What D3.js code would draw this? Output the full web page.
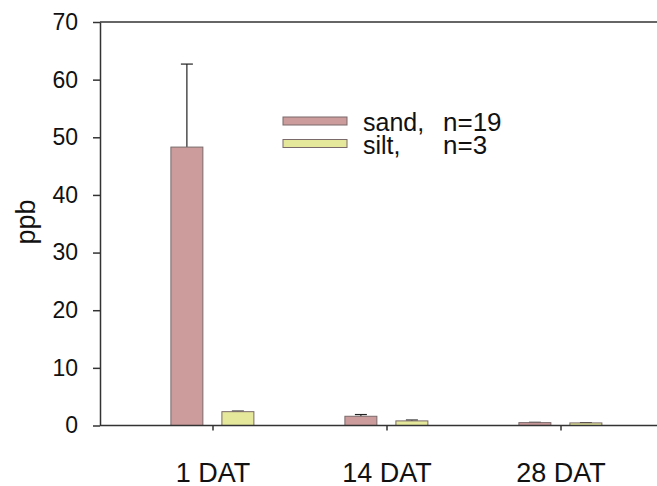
<!DOCTYPE html>
<html lang="en">
<head>
  <meta charset="UTF-8">
  <title>ppb by days after treatment</title>
  <script src="https://d3js.org/d3.v7.min.js"></script>
  <style>
    body { margin: 0; background: #fff; }
    svg { display: block; font-family: "Liberation Sans", Arial, sans-serif; }
    .axis path, .axis line { stroke: #333; stroke-width: 1.5px; }
    .axis text { fill: #111; }
  </style>
</head>
<body>
  <svg id="chart" width="657" height="486"></svg>
  <script>
    // values
    const categories = ["1 DAT", "14 DAT", "28 DAT"];
    const seriesNames = ["sand,", "silt,"];
    const seriesCounts = ["n=19", "n=3"];
    const sandMean = [48.3, 1.6, 0.5];
    const sandErr = [14.4, 0.3, 0.05];
    const siltMean = [2.4, 0.8, 0.45];
    const siltErr = [0.1, 0.15, 0.05];
    const yTicks = [0, 10, 20, 30, 40, 50, 60, 70];

    const colors = ["#cc9b9c", "#e5e89b"];

    const svg = d3.select("#chart");
    const plotLeft = 100, plotRight = 657, plotTop = 22, plotBottom = 425.5;

    const y = d3.scaleLinear().domain([0, 70]).range([plotBottom, plotTop]);
    const x = d3.scaleBand().domain(categories).range([126, 648]);
    const xSub = d3.scaleBand().domain(["sand", "silt"])
      .range([x.bandwidth() * 0.258, x.bandwidth() * 0.735])
      .paddingInner(0.373);

    const rows = [];
    categories.forEach((c, i) => {
      rows.push({ cat: c, key: "sand", v: sandMean[i], e: sandErr[i], color: colors[0] });
      rows.push({ cat: c, key: "silt", v: siltMean[i], e: siltErr[i], color: colors[1] });
    });

    // error bars (upper only), drawn behind bars
    const err = svg.append("g").attr("stroke", "#222").attr("stroke-width", 1.2);
    err.selectAll("line.v")
      .data(rows).enter().append("line")
      .attr("x1", d => x(d.cat) + xSub(d.key) + xSub.bandwidth() / 2)
      .attr("x2", d => x(d.cat) + xSub(d.key) + xSub.bandwidth() / 2)
      .attr("y1", d => y(d.v))
      .attr("y2", d => y(d.v + d.e));
    err.selectAll("line.cap")
      .data(rows).enter().append("line")
      .attr("x1", d => x(d.cat) + xSub(d.key) + xSub.bandwidth() / 2 - 6)
      .attr("x2", d => x(d.cat) + xSub(d.key) + xSub.bandwidth() / 2 + 6)
      .attr("y1", d => y(d.v + d.e))
      .attr("y2", d => y(d.v + d.e));

    svg.append("g")
      .selectAll("rect")
      .data(rows).enter().append("rect")
      .attr("x", d => x(d.cat) + xSub(d.key))
      .attr("y", d => y(d.v))
      .attr("width", xSub.bandwidth())
      .attr("height", d => y(0) - y(d.v))
      .attr("fill", d => d.color)
      .attr("stroke", "#7a6a6a")
      .attr("stroke-width", 1);

    // top frame line
    svg.append("line")
      .attr("x1", plotLeft).attr("x2", plotRight)
      .attr("y1", y(70)).attr("y2", y(70))
      .attr("stroke", "#333").attr("stroke-width", 1.5);

    // y axis
    const yAxis = svg.append("g")
      .attr("class", "axis")
      .attr("transform", `translate(${plotLeft},0)`)
      .call(d3.axisLeft(y).tickValues(yTicks).tickSize(7).tickSizeOuter(0).tickPadding(15));
    yAxis.selectAll("text").style("font-size", "23px");

    // x axis
    const xAxis = svg.append("g")
      .attr("class", "axis")
      .attr("transform", `translate(0,${y(0)})`);
    xAxis.append("line")
      .attr("x1", plotLeft).attr("x2", plotRight);
    xAxis.selectAll("line.tick")
      .data(categories).enter().append("line")
      .attr("class", "tick")
      .attr("x1", d => x(d) + x.bandwidth() / 2)
      .attr("x2", d => x(d) + x.bandwidth() / 2)
      .attr("y1", 0).attr("y2", 5);
    xAxis.selectAll("text")
      .data(categories).enter().append("text")
      .attr("x", d => x(d) + x.bandwidth() / 2)
      .attr("y", 56)
      .attr("text-anchor", "middle")
      .style("font-size", "27px")
      .text(d => d);

    svg.append("text")
      .attr("transform", "translate(35,222) rotate(-90)")
      .attr("text-anchor", "middle")
      .style("font-size", "27px")
      .attr("fill", "#111")
      .text("ppb");

    // legend
    const legend = svg.append("g").attr("transform", "translate(283,117)");
    const item = legend.selectAll("g")
      .data(seriesNames).enter().append("g")
      .attr("transform", (d, i) => `translate(0,${i * 22.5})`);
    item.append("rect")
      .attr("width", 64).attr("height", 8)
      .attr("fill", (d, i) => colors[i])
      .attr("stroke", "#7a6a6a");
    item.append("text")
      .attr("x", 80).attr("y", 14)
      .style("font-size", "25px")
      .attr("fill", "#111")
      .text(d => d);
    item.append("text")
      .attr("x", 160).attr("y", 14)
      .style("font-size", "26px")
      .attr("fill", "#111")
      .text((d, i) => seriesCounts[i]);
  </script>
</body>
</html>
